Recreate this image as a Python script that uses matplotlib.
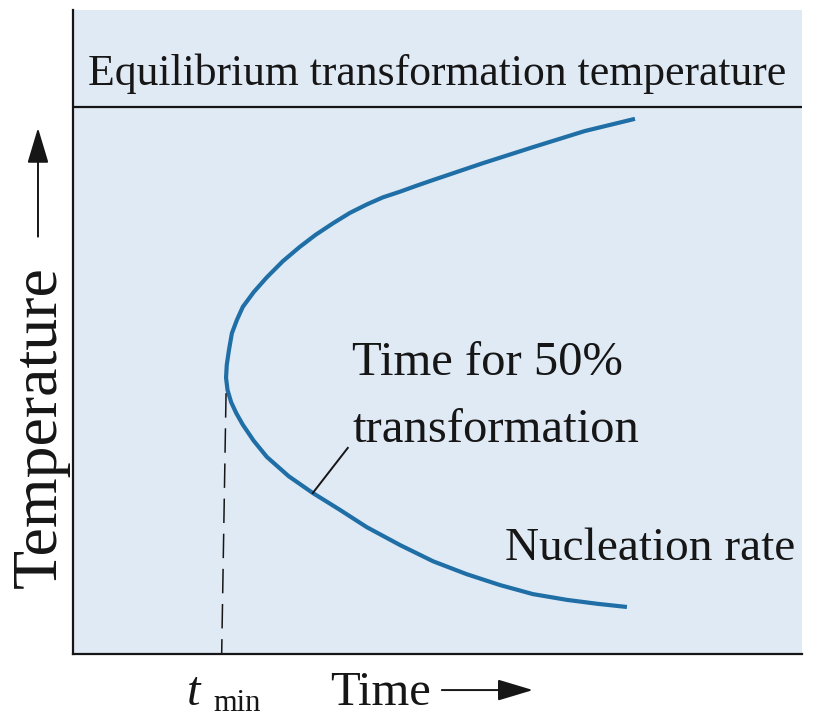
import matplotlib
matplotlib.use("Agg")
import matplotlib.pyplot as plt

plt.rcParams['font.family'] = ['Liberation Serif', 'DejaVu Serif']

# C-curve (time, temperature), both on a 0-100 scale
curve_time = [77.1, 70.2, 63.1, 56.2, 49.4, 47.1, 44.9, 42.5, 40.3, 38.0, 35.7,
              33.3, 31.1, 28.8, 26.6, 24.8, 23.3, 22.5, 21.8, 21.4, 21.1, 21.0,
              21.2, 21.7, 22.4, 23.3, 24.8, 26.6, 29.6, 32.9, 36.6, 40.3, 44.9,
              49.4, 54.0, 58.6, 63.1, 67.8, 71.9, 76.0]
curve_temp = [83.1, 81.2, 78.7, 76.2, 73.6, 72.7, 71.8, 70.9, 69.8, 68.5, 66.9,
              65.1, 63.2, 61.0, 58.5, 56.2, 53.9, 51.9, 49.8, 47.2, 44.9, 42.9,
              41.0, 39.1, 37.4, 35.6, 33.1, 30.6, 27.6, 25.0, 22.4, 19.7, 16.9,
              14.4, 12.4, 10.7, 9.3, 8.4, 7.8, 7.3]

equilibrium_temp = 84.9
t_min = [21.0, 20.4]
t_min_temp = [40.5, 0.0]
leader_time = [32.9, 37.7]
leader_temp = [25.0, 32.0]

bg = '#e0eaf5'
curve_color = '#1f6fa6'
ink = '#161616'

fig = plt.figure(figsize=(8.19, 7.19), dpi=100)
ax = fig.add_axes([0.0891, 0.0904, 0.890, 0.8957])
ax.set_facecolor(bg)
ax.set_xlim(0, 100)
ax.set_ylim(0, 100)
for side in ['top', 'right']:
    ax.spines[side].set_visible(False)
for side in ['left', 'bottom']:
    ax.spines[side].set_linewidth(1.6)
    ax.spines[side].set_color(ink)
ax.set_xticks([])
ax.set_yticks([])

ax.axhline(equilibrium_temp, color=ink, lw=1.6)
ax.plot(curve_time, curve_temp, color=curve_color, lw=3.0,
        solid_capstyle='butt', solid_joinstyle='round')
ax.plot(t_min, t_min_temp, color=ink, lw=1.1, dashes=(16, 7))
ax.plot(leader_time, leader_temp, color=ink, lw=1.4)

ax.text(2.06, 88.4, 'Equilibrium transformation temperature', fontsize=31.5,
        color=ink, va='baseline', ha='left')
ax.text(38.3, 43.3, 'Time for 50%', fontsize=35, color=ink, va='baseline', ha='left')
ax.text(38.3, 32.9, 'transformation', fontsize=35, color=ink, va='baseline', ha='left')
ax.text(59.3, 14.6, 'Nucleation rate', fontsize=34, color=ink, va='baseline', ha='left')

# axis labels with arrows
arrow_style = dict(arrowstyle='-|>,head_length=1.1,head_width=0.33',
                   color=ink, lw=1.4, mutation_scale=20, shrinkA=0, shrinkB=0)
ax.text(-4.4, 35.2, 'Temperature', fontsize=46, color=ink, rotation=90,
        va='center', ha='center', clip_on=False)
ax.annotate('', xy=(-4.8, 81.7), xytext=(-4.8, 64.8), annotation_clip=False,
            arrowprops=arrow_style)
ax.text(35.3, -7.9, 'Time', fontsize=35, color=ink, va='baseline', ha='left', clip_on=False)
ax.annotate('', xy=(63.1, -5.6), xytext=(50.6, -5.6), annotation_clip=False,
            arrowprops=arrow_style)
ax.text(15.6, -7.9, 't', fontsize=35, fontstyle='italic', color=ink,
        va='baseline', ha='left', clip_on=False)
ax.text(19.2, -8.9, 'min', fontsize=22, color=ink, va='baseline', ha='left', clip_on=False)

fig.savefig('out.png', dpi=100, facecolor='white')
